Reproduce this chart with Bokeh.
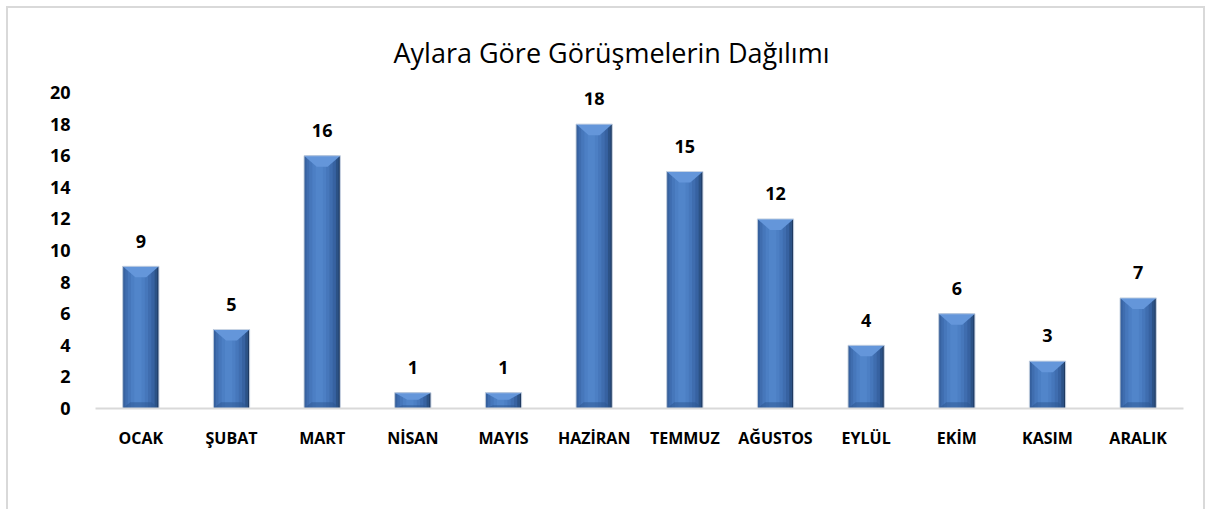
from bokeh.plotting import figure
from bokeh.models import FixedTicker, Range1d, ColumnDataSource
from bokeh.embed import file_html
from bokeh.resources import INLINE

months = ["OCAK", "ŞUBAT", "MART", "NİSAN", "MAYIS", "HAZİRAN",
          "TEMMUZ", "AĞUSTOS", "EYLÜL", "EKİM", "KASIM", "ARALIK"]
counts = [9, 5, 16, 1, 1, 18, 15, 12, 4, 6, 3, 7]
y_ticks = [0, 2, 4, 6, 8, 10, 12, 14, 16, 18, 20]
title_text = "Aylara Göre Görüşmelerin Dağılımı"

FONT = "Open Sans"

p = figure(width=1199, height=503, output_backend="svg", toolbar_location=None,
           x_range=Range1d(0, len(months)), y_range=Range1d(0, 20),
           min_border_left=87, min_border_right=24, min_border_top=84,
           min_border_bottom=103)
p.title.text = title_text
p.title.align = "left"
p.title.vertical_align = "top"
p.title.text_font = FONT
p.title.text_font_size = "27px"
p.title.text_font_style = "normal"
p.title.text_color = "#000000"
p.title.offset = 298
p.title.standoff = 40

p.styles = {"border-top": "2px solid #d9d9d9", "border-left": "2px solid #d9d9d9",
            "border-right": "2px solid #d9d9d9", "margin-top": "6px",
            "margin-left": "6px"}
p.outline_line_color = None
p.background_fill_color = "white"
p.border_fill_color = "white"
p.xgrid.visible = False
p.ygrid.visible = False

xs = [i + 0.5 for i in range(len(months))]
bw = 0.4

# nested layers to mimic the bevelled 3D bars (dark right edge, lighter core)
layers = [(1.00, 0.00, "#1f3a61"), (0.95, -0.02, "#2c5286"),
          (0.86, -0.05, "#3762a1"), (0.72, -0.07, "#3f6daf"),
          (0.56, -0.08, "#4677bb"), (0.38, -0.08, "#4c7fc4"),
          (0.20, -0.08, "#5185ca")]
for frac, off, col in layers:
    p.vbar(x=[x + off * bw for x in xs], top=counts, bottom=0, width=bw * frac,
           fill_color=col, line_color=None)

# top bevel (lighter trapezoid) and bottom bevel (darker)
bev_x = 0.14
bev_top_xs, bev_top_ys, bev_bot_xs, bev_bot_ys = [], [], [], []
for x, v in zip(xs, counts):
    d = min(0.7, v * 0.45)
    l, r = x - bw / 2, x + bw / 2
    bev_top_xs.append([l, r, r - bev_x, l + bev_x])
    bev_top_ys.append([v, v, v - d, v - d])
    db = min(0.4, v * 0.2)
    bev_bot_xs.append([l, r, r - bev_x * 0.6, l + bev_x * 0.6])
    bev_bot_ys.append([0, 0, db, db])
p.patches(xs=bev_top_xs, ys=bev_top_ys, fill_color="#6496da", line_color=None)
p.patches(xs=bev_bot_xs, ys=bev_bot_ys, fill_color="#2c5590", fill_alpha=0.5,
          line_color=None)
p.vbar(x=xs, top=counts, bottom=0, width=bw, fill_color=None,
       line_color="#c8d4e4", line_width=1)

# data labels
src = ColumnDataSource(dict(x=xs, y=[c + 1.6 for c in counts],
                            t=[str(c) for c in counts]))
p.text(x="x", y="y", text="t", source=src, text_align="center",
       text_baseline="middle", text_font_size="18px", text_font_style="bold",
       text_color="#000000", text_font={"value": FONT})

# axes
p.xaxis.ticker = FixedTicker(ticks=xs)
p.xaxis.major_label_overrides = {x: m for x, m in zip(xs, months)}
p.xaxis.major_label_text_font = FONT
p.xaxis.major_label_text_font_size = "16px"
p.xaxis.major_label_text_font_style = "bold"
p.xaxis.major_label_text_color = "#000000"
p.xaxis.major_label_standoff = 12
p.xaxis.axis_line_color = "#d9d9d9"
p.xaxis.axis_line_width = 2
p.xaxis.major_tick_line_color = None
p.xaxis.minor_tick_line_color = None

p.yaxis.ticker = FixedTicker(ticks=y_ticks)
p.yaxis.major_label_text_font = FONT
p.yaxis.major_label_text_font_size = "18px"
p.yaxis.major_label_text_font_style = "bold"
p.yaxis.major_label_text_color = "#000000"
p.yaxis.major_label_standoff = 19
p.yaxis.axis_line_color = None
p.yaxis.major_tick_line_color = None
p.yaxis.minor_tick_line_color = None

open("out.html", "w").write(file_html(p, INLINE))
